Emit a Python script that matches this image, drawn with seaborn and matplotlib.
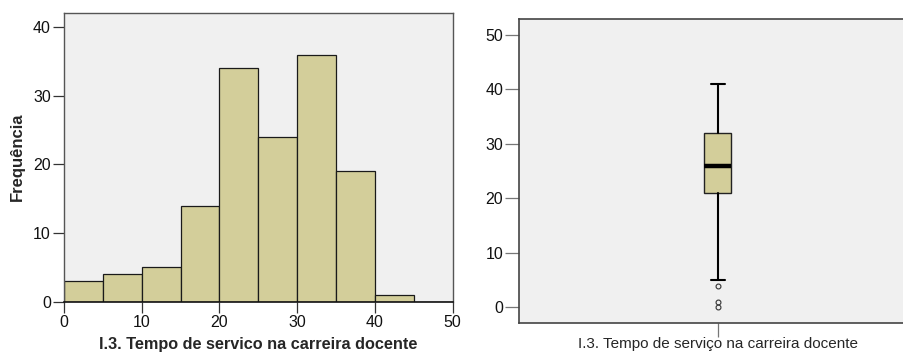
import matplotlib
matplotlib.use("Agg")
import matplotlib.pyplot as plt
import seaborn as sns
import pandas as pd

# Frequency table of years of service (5-year classes)
bin_edges = [0, 5, 10, 15, 20, 25, 30, 35, 40, 45, 50]
bin_counts = [3, 4, 5, 14, 34, 24, 36, 19, 1, 0]
bin_centers = [2.5, 7.5, 12.5, 17.5, 22.5, 27.5, 32.5, 37.5, 42.5, 47.5]

# Box-plot summary of the same variable
box_q1 = 21
box_median = 26
box_q3 = 32
box_whisker_low = 5
box_whisker_high = 41
box_outliers = [4, 1, 0]

hist_yticks = [0, 10, 20, 30, 40]
hist_xticks = [0, 10, 20, 30, 40, 50]
box_yticks = [0, 10, 20, 30, 40, 50]

var_label_bold = "I.3. Tempo de servico na carreira docente"
var_label = "I.3. Tempo de serviço na carreira docente"
freq_label = "Frequência"

sns.set_theme(style="white")
plt.rcParams["font.family"] = ["Liberation Sans", "DejaVu Sans"]
plt.rcParams["font.size"] = 11

FILL = "#D3CE9A"
BG = "#F0F0F0"

fig = plt.figure(figsize=(9.04, 3.53), dpi=100)
ax1 = fig.add_axes([0.0708, 0.1453, 0.4300, 0.8187])
ax2 = fig.add_axes([0.5741, 0.0858, 0.4396, 0.8595])

# Histogram
df = pd.DataFrame({"anos": bin_centers, "n": bin_counts})
sns.histplot(data=df, x="anos", weights="n", bins=bin_edges, ax=ax1,
             color=FILL, alpha=1.0, edgecolor="#1a1a1a", linewidth=0.9)
ax1.set_facecolor(BG)
ax1.set_xlim(0, 50)
ax1.set_ylim(0, 42.1)
ax1.set_xticks(hist_xticks)
ax1.set_yticks(hist_yticks)
ax1.set_xlabel(var_label_bold, fontsize=11.7, fontweight="bold", labelpad=5)
ax1.set_ylabel(freq_label, fontsize=12, fontweight="bold", labelpad=6)
ax1.tick_params(axis="both", which="both", direction="out", length=8,
                width=0.9, color="#333333", labelsize=11.5, pad=1.5,
                labelcolor="#111111", left=True, bottom=True)
for side in ["left", "top", "right"]:
    ax1.spines[side].set_color("#555555")
    ax1.spines[side].set_linewidth(1.0)
ax1.spines["bottom"].set_color("#111111")
ax1.spines["bottom"].set_linewidth(1.2)

# Box plot
stats = [{
    "med": box_median, "q1": box_q1, "q3": box_q3,
    "whislo": box_whisker_low, "whishi": box_whisker_high,
    "fliers": box_outliers, "label": "",
}]
ax2.bxp(stats, positions=[0], widths=0.136, capwidths=0.07, patch_artist=True,
        boxprops=dict(facecolor=FILL, edgecolor="#222222", linewidth=1.0),
        medianprops=dict(color="black", linewidth=3.2, solid_capstyle="butt"),
        whiskerprops=dict(color="black", linewidth=1.5),
        capprops=dict(color="black", linewidth=1.5),
        flierprops=dict(marker="o", markersize=3.5, markerfacecolor="none",
                        markeredgecolor="#333333", markeredgewidth=0.8))
ax2.set_facecolor(BG)
ax2.set_xlim(-1, 1)
ax2.set_ylim(-2.8, 52.8)
ax2.set_yticks(box_yticks)
ax2.set_xticks([0])
ax2.set_xticklabels([""])
ax2.set_xlabel(var_label, fontsize=11, labelpad=-1.5)
ax2.tick_params(axis="both", which="both", direction="out", length=10,
                width=0.9, color="#777777", labelsize=11.5, pad=1.5,
                labelcolor="#111111", left=True, bottom=True)
for side in ["left", "top", "right", "bottom"]:
    ax2.spines[side].set_color("#444444")
    ax2.spines[side].set_linewidth(1.2)

fig.savefig("out.png", dpi=100, facecolor="white")
